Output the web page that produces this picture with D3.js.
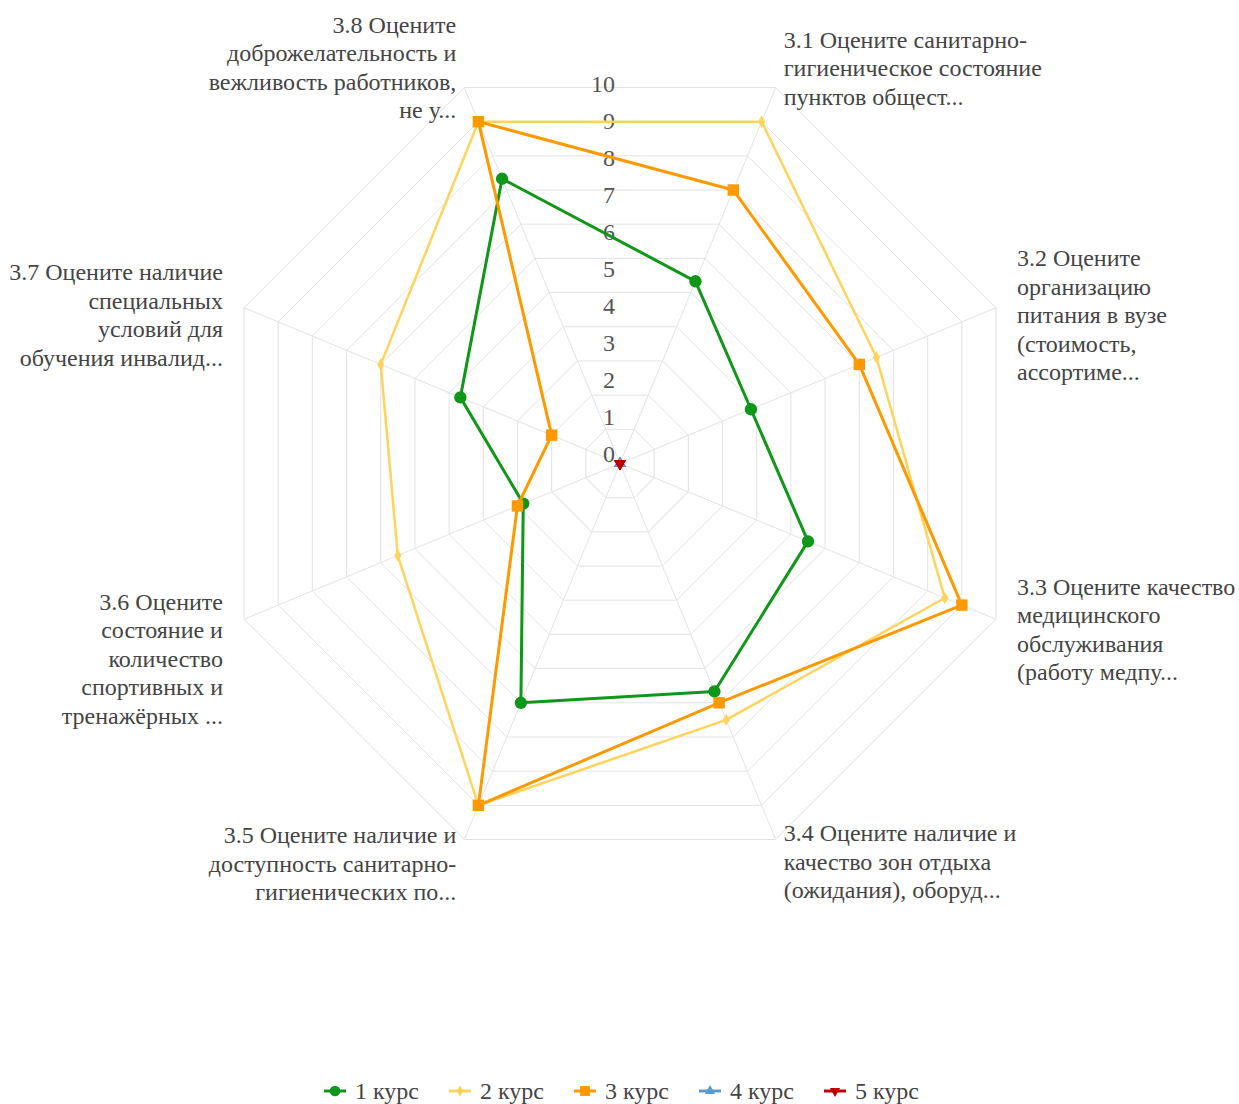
<!DOCTYPE html>
<html><head><meta charset="utf-8">
<script src="https://cdn.jsdelivr.net/npm/d3@7"></script>
<style>
html,body{margin:0;padding:0;background:#fff;}
svg{display:block;}
text{font-family:"Liberation Serif","Times New Roman",serif;}
</style></head>
<body>
<svg id="chart" width="1239" height="1104"></svg>
<script>
// ---- data ----
const categories = [
  ["3.1 Оцените санитарно-", "гигиеническое состояние", "пунктов общест..."],
  ["3.2 Оцените", "организацию", "питания в вузе", "(стоимость,", "ассортиме..."],
  ["3.3 Оцените качество", "медицинского", "обслуживания", "(работу медпу..."],
  ["3.4 Оцените наличие и", "качество зон отдыха", "(ожидания), оборуд..."],
  ["3.5 Оцените наличие и", "доступность санитарно-", "гигиенических по..."],
  ["3.6 Оцените", "состояние и", "количество", "спортивных и", "тренажёрных ..."],
  ["3.7 Оцените наличие", "специальных", "условий для", "обучения инвалид..."],
  ["3.8 Оцените", "доброжелательность и", "вежливость работников,", "не у..."]
];
const seriesNames = ["1 курс", "2 курс", "3 курс", "4 курс", "5 курс"];
const kurs1 = [5.33, 3.83, 5.5, 6.67, 7, 2.83, 4.67, 8.33];
const kurs2 = [10, 7.5, 9.5, 7.5, 10, 6.5, 7, 10];
const kurs3 = [8, 7, 10, 7, 10, 3, 2, 10];
const kurs4 = [0, 0, 0, 0, 0, 0, 0, 0];
const kurs5 = [0, 0, 0, 0, 0, 0, 0, 0];
const tickValues = [0, 1, 2, 3, 4, 5, 6, 7, 8, 9, 10];
const scaleMax = 11;

// ---- layout / style ----
const cx = 620, cy = 463.5;
const R = 407;
const colors = ["#109618", "#FFD35C", "#FF9900", "#5B9BD5", "#C00000"];
const symbols = [d3.symbolCircle, d3.symbolDiamond, d3.symbolSquare, d3.symbolTriangle, d3.symbolTriangle];
const symSize = [120, 45, 130, 60, 60];
const symRotate = [0, 0, 0, 0, 180];
const lineW = [3, 2.5, 3, 2.5, 2.5];
// label placement relative to outer vertex: [dx, dy of first line]
const labelLayout = [[8, -47.5], [21, -49.7], [21, -32.3], [8, -6.5], [-8, -4.5], [-21, -17.3], [-21, -35.7], [-8, -62.5]];
const lineH = 28.5;
const fontSize = 24;

const svg = d3.select("#chart");
const r = d3.scaleLinear().domain([0, scaleMax]).range([0, R]);
const n = categories.length;
const angle = i => (Math.PI / 180) * (22.5 + 45 * i);
const px = (i, v) => cx + r(v) * Math.sin(angle(i));
const py = (i, v) => cy - r(v) * Math.cos(angle(i));

const g = svg.append("g");

// grid rings
const rings = d3.range(1, scaleMax + 1);
const ringLine = d3.lineRadial().angle((d, i) => angle(i)).radius(d => r(d)).curve(d3.curveLinearClosed);
g.append("g").selectAll("path").data(rings).join("path")
  .attr("transform", `translate(${cx},${cy})`)
  .attr("d", v => ringLine(d3.range(n).map(() => v)))
  .attr("fill", "none").attr("stroke", "#e3e3e3").attr("stroke-width", 1);
// spokes
g.append("g").selectAll("line").data(d3.range(n)).join("line")
  .attr("x1", cx).attr("y1", cy)
  .attr("x2", i => px(i, scaleMax)).attr("y2", i => py(i, scaleMax))
  .attr("stroke", "#e3e3e3").attr("stroke-width", 1);

// tick labels
g.append("g").selectAll("text").data(tickValues).join("text")
  .attr("x", cx - 5).attr("y", v => cy - r(v) - 10)
  .attr("text-anchor", "end").attr("dominant-baseline", "central")
  .attr("font-size", fontSize).attr("fill", "#555")
  .text(v => v);

// category labels
categories.forEach((lines, i) => {
  const vx = px(i, scaleMax), vy = py(i, scaleMax);
  const right = Math.sin(angle(i)) > 0;
  const t = g.append("text")
    .attr("text-anchor", right ? "start" : "end")
    .attr("font-size", fontSize).attr("fill", "#444");
  lines.forEach((ln, k) => {
    t.append("tspan").attr("x", vx + labelLayout[i][0])
      .attr("y", vy + labelLayout[i][1] + k * lineH)
      .attr("dominant-baseline", "central").text(ln);
  });
});

// series
const allSeries = [kurs1, kurs2, kurs3, kurs4, kurs5];
const radial = d3.lineRadial().angle((d, i) => angle(i)).radius(d => r(d)).curve(d3.curveLinearClosed);
allSeries.forEach((vals, s) => {
  const sg = g.append("g");
  sg.append("path").attr("transform", `translate(${cx},${cy})`)
    .attr("d", radial(vals)).attr("fill", "none")
    .attr("stroke", colors[s]).attr("stroke-width", lineW[s]).attr("stroke-linejoin", "round");
  sg.selectAll("path.m").data(vals).join("path").attr("class", "m")
    .attr("transform", (d, i) => `translate(${px(i, d)},${py(i, d)}) rotate(${symRotate[s]})`)
    .attr("d", d3.symbol().type(symbols[s]).size(symSize[s]))
    .attr("fill", colors[s]);
});

// legend
const legX = d3.scalePoint().domain(seriesNames).range([335, 835]);
const leg = svg.append("g");
seriesNames.forEach((name, s) => {
  const x = legX(name), y = 1091;
  leg.append("line").attr("x1", x - 11).attr("x2", x + 11).attr("y1", y).attr("y2", y)
    .attr("stroke", colors[s]).attr("stroke-width", 3);
  leg.append("path").attr("transform", `translate(${x},${y}) rotate(${symRotate[s]})`)
    .attr("d", d3.symbol().type(symbols[s]).size(symSize[s] * 0.75)).attr("fill", colors[s]);
  leg.append("text").attr("x", x + 20).attr("y", y).attr("dominant-baseline", "central")
    .attr("font-size", fontSize).attr("fill", "#444").text(name);
});
</script>
</body></html>
